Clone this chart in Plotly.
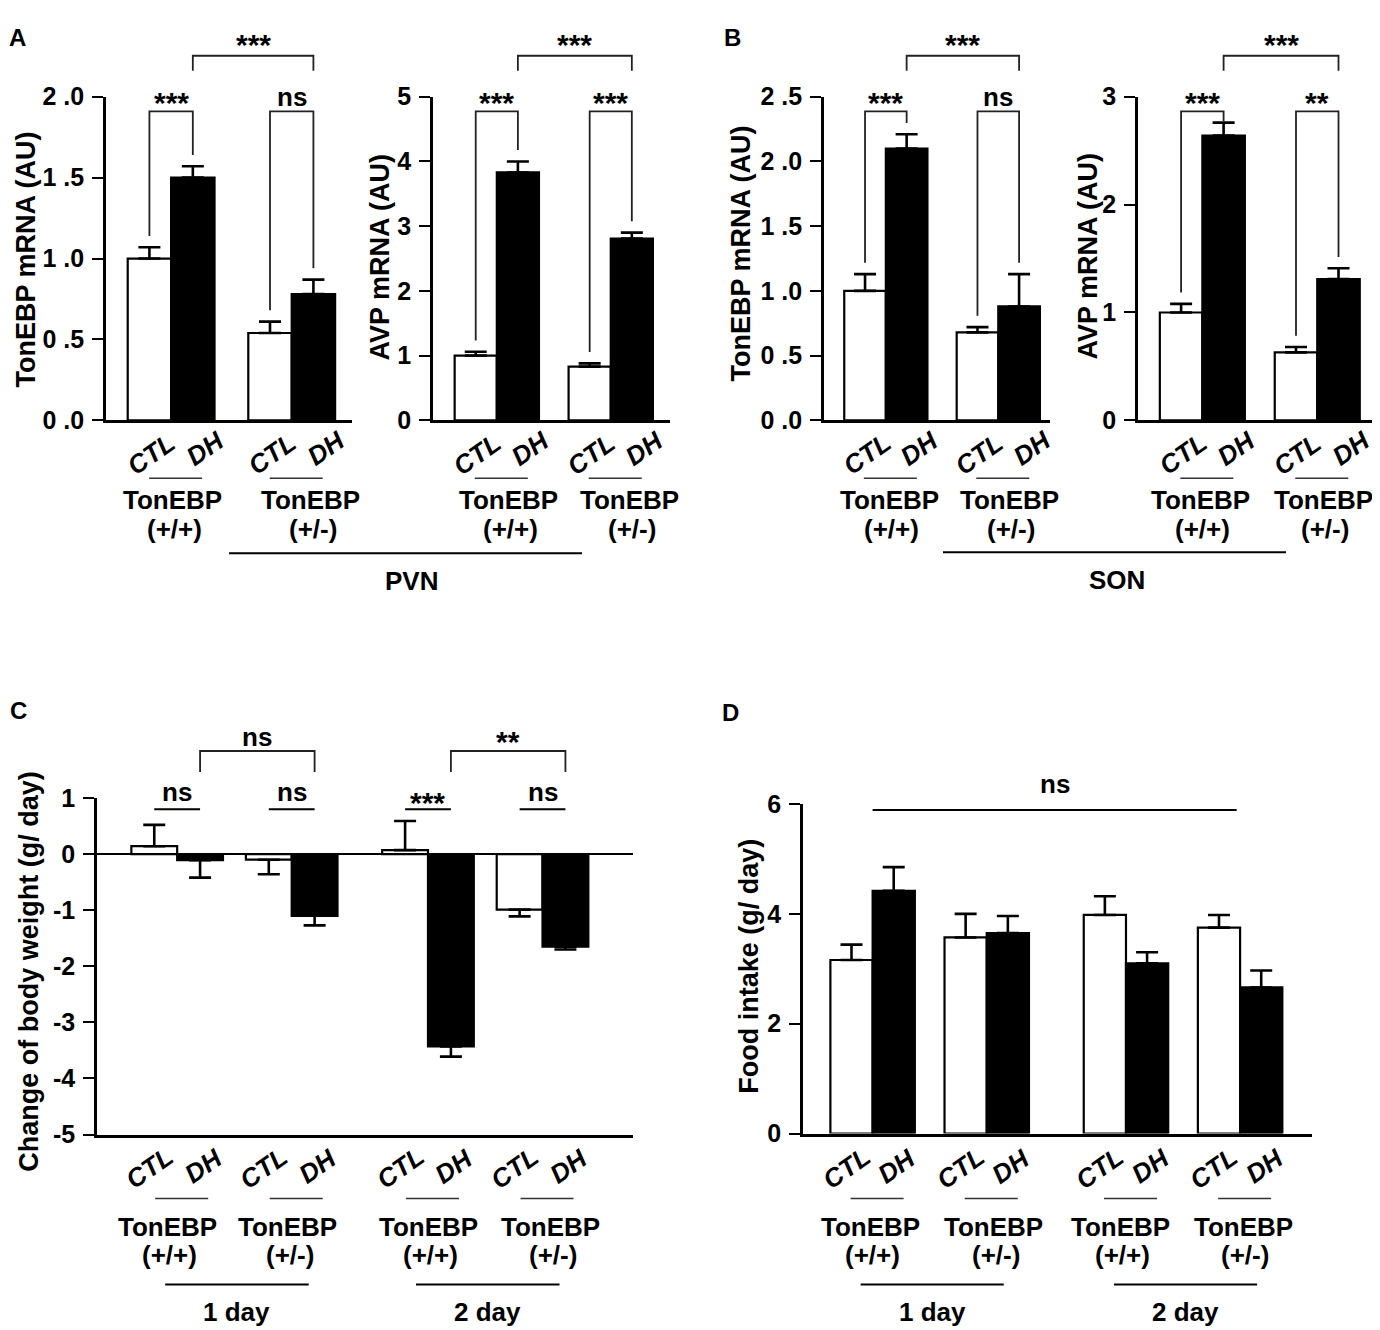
import plotly.graph_objects as go

W, H = 1380, 1330
# the page shows the figure shifted and slightly squeezed in y; positions below are
# given in picture pixels and mapped back into figure pixels
PIC_DX, PIC_DY, PIC_SY = 8, 21.2, 0.98
FONT = "Liberation Sans, Arial, Helvetica, sans-serif"

# ---------------- data ----------------
genotypes = ["(+/+)", "(+/-)"]
conditions = ["CTL", "DH"]
days = ["1 day", "2 day"]

# A: PVN
pvn_tonebp_ctl = [1.00, 0.54]
pvn_tonebp_ctl_sem = [0.07, 0.07]
pvn_tonebp_dh = [1.50, 0.78]
pvn_tonebp_dh_sem = [0.07, 0.09]
pvn_avp_ctl = [1.00, 0.83]
pvn_avp_ctl_sem = [0.06, 0.05]
pvn_avp_dh = [3.83, 2.81]
pvn_avp_dh_sem = [0.17, 0.09]

# B: SON
son_tonebp_ctl = [1.00, 0.68]
son_tonebp_ctl_sem = [0.13, 0.04]
son_tonebp_dh = [2.10, 0.88]
son_tonebp_dh_sem = [0.11, 0.25]
son_avp_ctl = [1.00, 0.63]
son_avp_ctl_sem = [0.08, 0.05]
son_avp_dh = [2.64, 1.31]
son_avp_dh_sem = [0.12, 0.10]

# C: change of body weight (1 day +/+, 1 day +/-, 2 day +/+, 2 day +/-)
bw_ctl = [0.14, -0.10, 0.07, -0.99]
bw_ctl_sem = [0.38, 0.26, 0.52, 0.12]
bw_dh = [-0.11, -1.10, -3.43, -1.65]
bw_dh_sem = [0.31, 0.17, 0.18, 0.05]

# D: food intake
food_ctl = [3.16, 3.57, 3.98, 3.75]
food_ctl_sem = [0.28, 0.43, 0.34, 0.23]
food_dh = [4.42, 3.65, 3.10, 2.66]
food_dh_sem = [0.43, 0.31, 0.20, 0.31]

# significance labels
sig_a1 = ["***", "ns"]
sig_a2 = ["***", "***"]
sig_b1 = ["***", "ns"]
sig_b2 = ["***", "**"]
sig_a_top = ["***", "***"]
sig_b_top = ["***", "***"]
sig_c = ["ns", "ns", "***", "ns"]
sig_c_top = ["ns", "**"]
sig_d = "ns"

# tick labels
ticks_a1 = [0, 0.5, 1.0, 1.5, 2.0]
ticktext_a1 = ["0 .0", "0 .5", "1 .0", "1 .5", "2 .0"]
ticks_a2 = [0, 1, 2, 3, 4, 5]
ticks_b1 = [0, 0.5, 1.0, 1.5, 2.0, 2.5]
ticktext_b1 = ["0 .0", "0 .5", "1 .0", "1 .5", "2 .0", "2 .5"]
ticks_b2 = [0, 1, 2, 3]
ticks_c = [-5, -4, -3, -2, -1, 0, 1]
ticks_d = [0, 2, 4, 6]

# ---------------- layout of panels (pixel boxes) ----------------
panels = {
    "A1": dict(ax="", box=(106, 352, 96, 420), xr=(-0.54, 1.50), yr=(0, 2), gx=[0, 1], w=0.36,
               lab_dx=[1, 19]),
    "A2": dict(ax="2", box=(433, 670, 96, 420), xr=(-0.56, 1.52), yr=(0, 5), gx=[0, 1], w=0.37,
               lab_dx=[12, 19]),
    "B1": dict(ax="3", box=(824, 1050, 96, 420), xr=(-0.55, 1.46), yr=(0, 2.5), gx=[0, 1], w=0.37,
               lab_dx=[4, 11]),
    "B2": dict(ax="4", box=(1138, 1377, 96, 420), xr=(-0.56, 1.52), yr=(0, 3), gx=[0, 1], w=0.37,
               lab_dx=[-2, 6]),
    "C": dict(ax="5", box=(97, 633, 798, 1135), xr=(-0.70, 3.98), yr=(-5, 1), gx=[0, 1, 2.19, 3.19],
              w=0.40, lab_dx=[-10, -4, 1, 8]),
    "D": dict(ax="6", box=(803, 1312, 804, 1134), xr=(-0.61, 3.85), yr=(0, 6), gx=[0, 1, 2.22, 3.22],
              w=0.37, lab_dx=[-2, 7, -5, 3]),
}


def px_x(p, v):
    x0, x1, _, _ = p["box"]
    r0, r1 = p["xr"]
    return x0 + (v - r0) / (r1 - r0) * (x1 - x0)


def px_y(p, v):
    _, _, y0, y1 = p["box"]
    r0, r1 = p["yr"]
    return y1 - (v - r0) / (r1 - r0) * (y1 - y0)


def fx(px):
    return (px - PIC_DX) / W


def fy(py):
    return 1 - ((py - PIC_DY) / PIC_SY) / H


fig = go.Figure()
annotations = []
shapes = []


def text(x, y, s, size=26, angle=0, italic=False, xanchor="center", yanchor="middle", paper=False):
    annotations.append(dict(
        x=x if paper else fx(x), y=y if paper else fy(y), xref="paper", yref="paper",
        text=s, showarrow=False, textangle=angle, xanchor=xanchor, yanchor=yanchor,
        font=dict(family=FONT, size=size, color="black", weight="bold",
                  style="italic" if italic else "normal"),
    ))


def sig_text(x, y, s):
    # asterisks sit high in the glyph box, so push the box down a little
    if "*" in s:
        text(x, y + 6, s, size=30)
    else:
        text(x, y, s, size=26)


def line(x0, y0, x1, y1, width=2, color="black"):
    shapes.append(dict(type="line", xref="paper", yref="paper",
                       x0=fx(x0), y0=fy(y0), x1=fx(x1), y1=fy(y1),
                       line=dict(color=color, width=width)))


def path(points, width=1.8, color="#222"):
    d = "M " + " L ".join("%.5f,%.5f" % (fx(a), fy(b)) for a, b in points)
    shapes.append(dict(type="path", xref="paper", yref="paper", path=d,
                       line=dict(color=color, width=width)))


def bars(p, ctl, ctl_sem, dh, dh_sem):
    w = p["w"]
    for vals, sem, fill, off in [(ctl, ctl_sem, "white", -w / 2), (dh, dh_sem, "black", w / 2)]:
        up = [s if v >= 0 else 0 for v, s in zip(vals, sem)]
        down = [s if v < 0 else 0 for v, s in zip(vals, sem)]
        fig.add_trace(go.Bar(
            x=[g + off for g in p["gx"]], y=vals, width=w,
            marker=dict(color=fill, line=dict(color="black", width=2.2)),
            error_y=dict(type="data", symmetric=False, array=up, arrayminus=down,
                         color="black", thickness=2.6, width=11),
            xaxis="x" + p["ax"], yaxis="y" + p["ax"], showlegend=False, hoverinfo="skip",
        ))


def axes(p, tickvals, ticktext=None, zeroline=False):
    x0, x1, y0, y1 = p["box"]
    k = p["ax"]
    fig.layout["xaxis" + k] = dict(
        domain=[fx(x0), fx(x1)], range=list(p["xr"]), anchor="y" + k,
        showline=True, linewidth=2.6, linecolor="black", ticks="",
        showticklabels=False, showgrid=False, zeroline=False, fixedrange=True)
    fig.layout["yaxis" + k] = dict(
        domain=[fy(y1), fy(y0)], range=list(p["yr"]), anchor="x" + k,
        showline=True, linewidth=2.6, linecolor="black", ticks="outside",
        ticklen=11, tickwidth=2.4, tickcolor="black",
        tickvals=tickvals, ticktext=ticktext if ticktext else [str(t) for t in tickvals],
        tickfont=dict(family=FONT, size=25, color="black", weight="bold"),
        ticklabelstandoff=3,
        showgrid=False, zeroline=zeroline, zerolinecolor="black", zerolinewidth=2,
        fixedrange=True)


def pair_brackets(p, ctl, ctl_sem, dh, dh_sem, labels):
    w = p["w"]
    ymax = p["yr"][1]
    top = 0.955 * ymax
    for i, g in enumerate(p["gx"]):
        xl = px_x(p, g - w / 2)
        xr = px_x(p, g + w / 2)
        yl = min(ctl[i] + ctl_sem[i] + 0.035 * ymax, top - 0.03 * ymax)
        yr = min(dh[i] + dh_sem[i] + 0.035 * ymax, top - 0.03 * ymax)
        path([(xl, px_y(p, yl)), (xl, px_y(p, top)), (xr, px_y(p, top)), (xr, px_y(p, yr))])
        sig_text((xl + xr) / 2, px_y(p, ymax), labels[i])


def top_bracket(p, ga, gb, label, ytop, ylegs, ytext):
    w = p["w"]
    xa = px_x(p, ga + w / 2)
    xb = px_x(p, gb + w / 2)
    path([(xa, ylegs), (xa, ytop), (xb, ytop), (xb, ylegs)])
    sig_text((xa + xb) / 2, ytext, label)


def cond_labels(p, y_ctl, y_dh, dx_ctl, dx_dh, yline, ytxt):
    w = p["w"]
    for g, geno, dx in zip(p["gx"], genotypes * 2, p["lab_dx"]):
        text(px_x(p, g - w / 2) + dx_ctl, y_ctl, conditions[0], size=26, angle=-35, italic=True)
        text(px_x(p, g + w / 2) + dx_dh, y_dh, conditions[1], size=26, angle=-35, italic=True)
        xc = px_x(p, g)
        line(xc - 22, yline, xc + 31, yline, width=1.6, color="#333")
        text(xc + dx, ytxt, "TonEBP", size=26)
        text(xc + dx + 2, ytxt + 29, geno, size=26)


pa1, pa2, pb1, pb2 = panels["A1"], panels["A2"], panels["B1"], panels["B2"]
pc, pd = panels["C"], panels["D"]

bars(pa1, pvn_tonebp_ctl, pvn_tonebp_ctl_sem, pvn_tonebp_dh, pvn_tonebp_dh_sem)
bars(pa2, pvn_avp_ctl, pvn_avp_ctl_sem, pvn_avp_dh, pvn_avp_dh_sem)
bars(pb1, son_tonebp_ctl, son_tonebp_ctl_sem, son_tonebp_dh, son_tonebp_dh_sem)
bars(pb2, son_avp_ctl, son_avp_ctl_sem, son_avp_dh, son_avp_dh_sem)
bars(pc, bw_ctl, bw_ctl_sem, bw_dh, bw_dh_sem)
bars(pd, food_ctl, food_ctl_sem, food_dh, food_dh_sem)

axes(pa1, ticks_a1, ticktext_a1)
axes(pa2, ticks_a2)
axes(pb1, ticks_b1, ticktext_b1)
axes(pb2, ticks_b2)
axes(pc, ticks_c, zeroline=True)
axes(pd, ticks_d)

# ---------------- panels A, B ----------------
pair_brackets(pa1, pvn_tonebp_ctl, pvn_tonebp_ctl_sem, pvn_tonebp_dh, pvn_tonebp_dh_sem, sig_a1)
pair_brackets(pa2, pvn_avp_ctl, pvn_avp_ctl_sem, pvn_avp_dh, pvn_avp_dh_sem, sig_a2)
pair_brackets(pb1, son_tonebp_ctl, son_tonebp_ctl_sem, son_tonebp_dh, son_tonebp_dh_sem, sig_b1)
pair_brackets(pb2, son_avp_ctl, son_avp_ctl_sem, son_avp_dh, son_avp_dh_sem, sig_b2)

for p, lab in [(pa1, sig_a_top[0]), (pa2, sig_a_top[1]), (pb1, sig_b_top[0]), (pb2, sig_b_top[1])]:
    top_bracket(p, p["gx"][0], p["gx"][1], lab, 55, 70, 38)

for p in [pa1, pa2, pb1, pb2]:
    cond_labels(p, 454, 448, 2, 13, 478, 500)

line(229, 553, 582, 553, width=2)
text(411, 581, "PVN", size=26)
line(943, 552, 1286, 552, width=2)
text(1117, 580, "SON", size=26)

# y-axis titles
text(26, 259, "TonEBP mRNA (AU)", size=27, angle=-90)
text(380, 257, "AVP mRNA (AU)", size=27, angle=-90)
text(741, 253, "TonEBP mRNA (AU)", size=27, angle=-90)
text(1088, 256, "AVP mRNA (AU)", size=27, angle=-90)
text(29, 972, "Change of body weight (g/ day)", size=27, angle=-90)
text(749, 967, "Food intake (g/ day)", size=27, angle=-90)

# ---------------- panel C ----------------
for i, g in enumerate(pc["gx"]):
    xl = px_x(pc, g - pc["w"] / 2)
    xr = px_x(pc, g + pc["w"] / 2)
    yl = px_y(pc, 0.8)
    line(xl, yl, xr, yl, width=2)
    sig_text((xl + xr) / 2, yl - (13 if "*" in sig_c[i] else 17), sig_c[i])

top_bracket(pc, pc["gx"][0], pc["gx"][1], sig_c_top[0], 751, 772, 737)
top_bracket(pc, pc["gx"][2], pc["gx"][3], sig_c_top[1], 751, 772, 735)

# ---------------- panel D ----------------
yd = px_y(pd, 5.89)
line(px_x(pd, pd["gx"][0]), yd, px_x(pd, pd["gx"][3] - 0.03), yd, width=2)
text((px_x(pd, pd["gx"][0]) + px_x(pd, pd["gx"][3] - 0.03)) / 2, 784, sig_d, size=26)

for p in [pc, pd]:
    cond_labels(p, 1168, 1166, -5, 3, 1199, 1227)
    for k, (ga, gb) in enumerate([(0, 1), (2, 3)]):
        xa = px_x(p, p["gx"][ga]) - 12
        xb = px_x(p, p["gx"][gb]) + 17
        line(xa, 1285, xb, 1285, width=2)
        text((xa + xb) / 2, 1313, days[k], size=26)

# panel letters (A and B sit at the very top edge of the figure)
text(fx(17), 1.0, "A", size=24, yanchor="top", paper=True)
text(fx(732), 1.0, "B", size=24, yanchor="top", paper=True)
text(18, 710, "C", size=24)
text(730, 712, "D", size=24)

fig.update_layout(
    width=W, height=H, margin=dict(l=0, r=0, t=0, b=0),
    paper_bgcolor="white", plot_bgcolor="white",
    barmode="overlay", showlegend=False,
    annotations=annotations, shapes=shapes,
    font=dict(family=FONT, color="black"),
)

fig.write_html("out.html")
